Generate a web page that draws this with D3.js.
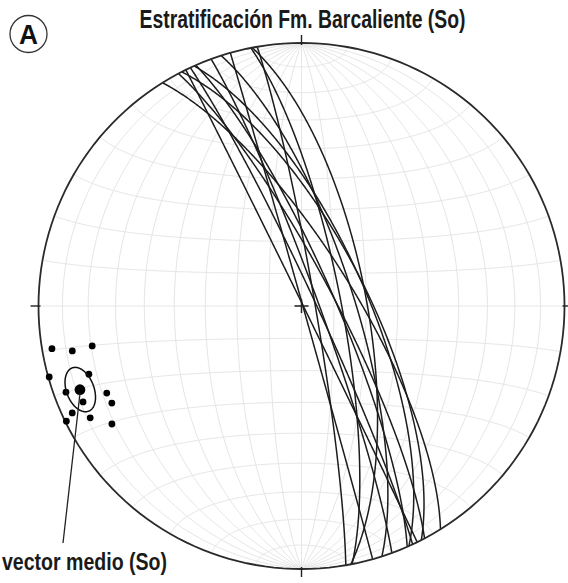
<!DOCTYPE html>
<html><head><meta charset="utf-8">
<script src="https://cdn.jsdelivr.net/npm/d3@7"></script>
<style>html,body{margin:0;padding:0;background:#fff;} svg{display:block;}</style>
</head><body>
<svg id="chart" width="568" height="583"></svg>
<script>
// ---- Data ----
// Poles to bedding planes (So), lower hemisphere: trend and plunge in degrees
const poleTrend  = [260.3, 258.9, 259.2, 254.3, 252.2, 249.9, 246.3, 245.9, 242.9, 245.0, 243.9, 242.1, 238.1];
const polePlunge = [4.2, 12.2, 20.1, 0.4, 16.2, 5.2, 10.2, 20.0, 20.1, 4.3, 0.5, 10.0, 16.2];
const meanTrend  = [249.3];
const meanPlunge = [10.9];
const alpha95    = [5.5];
const gridStep   = [10, 10];
const titleText  = ["Estratificación Fm. Barcaliente (So)"];
const panelLabel = ["A"];
const meanLabel  = ["vector medio (So)"];

// ---- Layout ----
const W = 568, H = 583;
const cx = 301.5, cy = 306, R = 263;

const svg = d3.select("#chart");

// lower-hemisphere line -> lon/lat on a sphere whose view centre is "down"
function lineToLonLat(trend, plunge) {
  const t = trend * Math.PI / 180, p = plunge * Math.PI / 180;
  const E = Math.cos(p) * Math.sin(t), N = Math.cos(p) * Math.cos(t), D = Math.sin(p);
  return [Math.atan2(E, D) * 180 / Math.PI, Math.asin(Math.max(-1, Math.min(1, N))) * 180 / Math.PI];
}

// Schmidt (equal-area) net
const projection = d3.geoAzimuthalEqualArea()
  .rotate([0, 0])
  .clipAngle(90)
  .scale(R / Math.SQRT2)
  .translate([cx, cy])
  .precision(0.1);
const path = d3.geoPath(projection);

// grid
const graticule = d3.geoGraticule()
  .extent([[-90, -90], [90, 90]])
  .step(gridStep)
  .precision(1);
svg.append("path")
  .datum(graticule())
  .attr("d", path)
  .attr("fill", "none")
  .attr("stroke", "#e6e6e6")
  .attr("stroke-width", 1);

// great circles (planes) from poles
const planes = poleTrend.map((t, i) => ({ t, p: polePlunge[i] }));
svg.append("g").selectAll("path")
  .data(planes)
  .join("path")
  .attr("d", d => {
    const ring = d3.geoCircle().center(lineToLonLat(d.t, d.p)).radius(90).precision(0.5)().coordinates[0];
    return path({ type: "LineString", coordinates: ring });
  })
  .attr("fill", "none")
  .attr("stroke", "#1c1c1c")
  .attr("stroke-width", 1.5);

// primitive
svg.append("path")
  .datum({ type: "Sphere" })
  .attr("d", path)
  .attr("fill", "none")
  .attr("stroke", "#2a2a2a")
  .attr("stroke-width", 1.8);

// N, E, S, W ticks
const tickDirs = [[0, 90], [90, 0], [0, -90], [-90, 0]];
svg.append("g").selectAll("line")
  .data(tickDirs)
  .join("line")
  .each(function (d) {
    const pt = projection(d);
    const ux = (pt[0] - cx) / R, uy = (pt[1] - cy) / R;
    d3.select(this)
      .attr("x1", pt[0] - ux * 2).attr("y1", pt[1] - uy * 2)
      .attr("x2", pt[0] + ux * 8).attr("y2", pt[1] + uy * 8);
  })
  .attr("stroke", "#222")
  .attr("stroke-width", 1.4);

// centre cross
const c0 = projection([0, 0]);
svg.append("path")
  .attr("d", `M${c0[0] - 7},${c0[1]}H${c0[0] + 7}M${c0[0]},${c0[1] - 7}V${c0[1] + 7}`)
  .attr("stroke", "#222")
  .attr("stroke-width", 1.5);

// poles
svg.append("g").selectAll("circle")
  .data(planes)
  .join("circle")
  .attr("cx", d => projection(lineToLonLat(d.t, d.p))[0])
  .attr("cy", d => projection(lineToLonLat(d.t, d.p))[1])
  .attr("r", 3.4)
  .attr("fill", "#000");

// confidence cone
const meanLL = lineToLonLat(meanTrend[0], meanPlunge[0]);
svg.append("path")
  .datum(d3.geoCircle().center(meanLL).radius(alpha95[0]).precision(1)())
  .attr("d", path)
  .attr("fill", "none")
  .attr("stroke", "#111")
  .attr("stroke-width", 1.5);

// mean vector
const mP = projection(meanLL);
svg.append("circle")
  .attr("cx", mP[0]).attr("cy", mP[1])
  .attr("r", 5.4)
  .attr("fill", "#000");

// pointer and label
const labelX = 2, labelY = 570;
svg.append("line")
  .attr("x1", mP[0]).attr("y1", mP[1] + 4)
  .attr("x2", labelX + 61).attr("y2", labelY - 27)
  .attr("stroke", "#222")
  .attr("stroke-width", 1.3);
svg.append("text")
  .attr("x", labelX).attr("y", labelY)
  .attr("font-family", "'Liberation Sans Narrow','Arial Narrow','Liberation Sans',Arial,sans-serif")
  .attr("font-weight", "bold")
  .attr("font-size", 24)
  .attr("textLength", 165)
  .attr("lengthAdjust", "spacingAndGlyphs")
  .attr("fill", "#1a1a1a")
  .text(meanLabel[0]);

// title
svg.append("text")
  .attr("x", 302.5).attr("y", 28)
  .attr("text-anchor", "middle")
  .attr("font-family", "'Liberation Sans Narrow','Arial Narrow','Liberation Sans',Arial,sans-serif")
  .attr("font-weight", "bold")
  .attr("font-size", 25)
  .attr("textLength", 326)
  .attr("lengthAdjust", "spacingAndGlyphs")
  .attr("fill", "#1a1a1a")
  .text(titleText[0]);

// panel label
svg.append("circle")
  .attr("cx", 28.5).attr("cy", 34).attr("r", 18.5)
  .attr("fill", "none")
  .attr("stroke", "#333")
  .attr("stroke-width", 1.3);
svg.append("text")
  .attr("x", 28.5).attr("y", 44)
  .attr("text-anchor", "middle")
  .attr("font-family", "'Liberation Sans','Arial',sans-serif")
  .attr("font-weight", "bold")
  .attr("font-size", 28)
  .attr("textLength", 19)
  .attr("lengthAdjust", "spacingAndGlyphs")
  .attr("fill", "#111")
  .text(panelLabel[0]);
</script>
</body></html>
